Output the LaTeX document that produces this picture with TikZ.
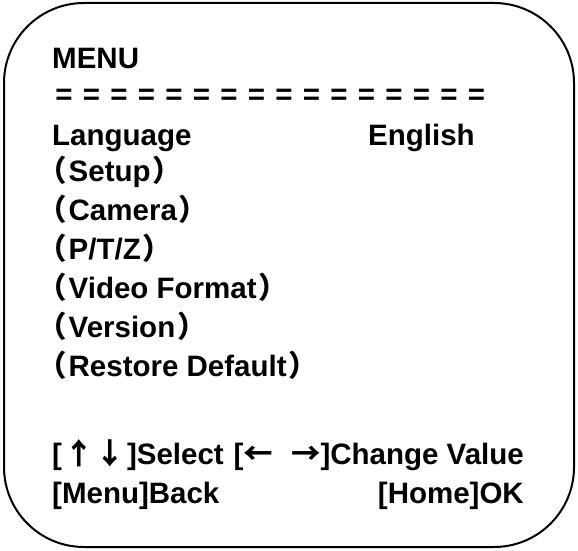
\documentclass[tikz,border=0pt]{standalone}
\usepackage{fontspec}
\setmainfont{Liberation Sans}
\newfontfamily\cjk{Noto Sans CJK SC}
\usepackage{tikz}
\tikzstyle{menutext} = [anchor=base west,inner sep=0pt,font=\fontsize{29.5}{29.5}\selectfont\bfseries]
\tikzstyle{frame} = [line width=2pt,rounded corners=80pt]
\newcommand{\paren}[1]{{\cjk （}\hspace{2pt}#1\hspace{2pt}{\cjk ）}}

\begin{document}
\begin{tikzpicture}[x=1pt,y=-1pt]
\useasboundingbox (0,0) rectangle (578,551);
\draw[frame] (4,3) rectangle (574,547);
\node[menutext] (title) at (52,68) {MENU};
\foreach \i in {0,...,15}{
	\node[menutext,anchor=center] (eq\i) at (64+27.5*\i,97) {=};
}
\node[menutext] (lang) at (52,145) {Language};
\node[menutext] (langval) at (368,145) {English};
\node[menutext] (setup) at (37,181) {\paren{Setup}};
\node[menutext] (camera) at (37,220) {\paren{Camera}};
\node[menutext] (ptz) at (37,259) {\paren{P/T/Z}};
\node[menutext] (video) at (37,298) {\paren{Video Format}};
\node[menutext] (version) at (37,337) {\paren{Version}};
\node[menutext] (restore) at (37,376) {\paren{Restore Default}};
\node[menutext] (select) at (52,464) {[\hspace{2pt}{\cjk ↑}\hspace{2pt}{\cjk ↓}\hspace{2pt}]Select};
\node[menutext,anchor=base east] (change) at (524,464) {[{\cjk ←}\hspace{18pt}{\cjk →}]Change Value};
\node[menutext] (back) at (52,503) {[Menu]Back};
\node[menutext,anchor=base east] (ok) at (524,503) {[Home]OK};
\end{tikzpicture}
\end{document}
